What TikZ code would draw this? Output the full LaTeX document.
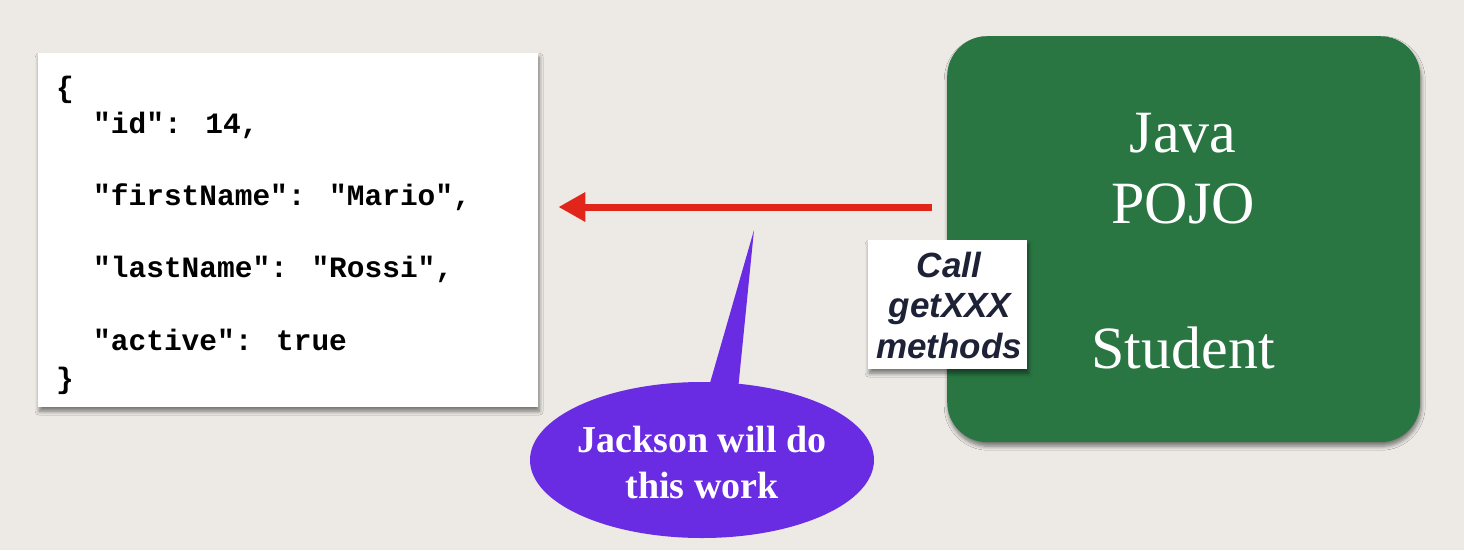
\documentclass[tikz,border=0pt]{standalone}
\usepackage{fontspec}
\usetikzlibrary{arrows.meta,shadows.blur}
\newfontfamily\jmono{Liberation Mono}
\newfontfamily\jsans{Liberation Sans}
\newfontfamily\jserif{Liberation Serif}
\definecolor{bgc}{HTML}{EDEAE5}
\definecolor{pojogreen}{HTML}{2A7643}
\definecolor{jackpurple}{HTML}{6A2CE3}
\definecolor{arrred}{HTML}{E2251B}
\definecolor{navytext}{HTML}{1E2236}
\tikzset{
  jsonline/.style={anchor=base west, inner sep=0pt, font=\jmono\bfseries\fontsize{29.5}{34}\selectfont, text=black},
  pojotext/.style={anchor=base, inner sep=0pt, text=white, font=\jserif\fontsize{60}{66}\selectfont},
  calltext/.style={anchor=base, inner sep=0pt, text=navytext, font=\jsans\bfseries\itshape\fontsize{35}{40}\selectfont},
  jacktext/.style={anchor=base, inner sep=0pt, text=white, font=\jserif\bfseries\fontsize{38}{44}\selectfont},
  softshadow/.style={blur shadow={shadow xshift=1pt, shadow yshift=-4pt, shadow blur radius=4pt, shadow blur steps=6, shadow opacity=50}},
}
\begin{document}
\begin{tikzpicture}[x=1pt,y=-1pt]
\fill[bgc] (0,0) rectangle (1464,550);
\useasboundingbox (0,0) rectangle (1464,550);
% JSON box
\node[draw=none, fill=white, softshadow, minimum width=500pt, minimum height=354pt, inner sep=0pt, anchor=north west] (json) at (38,53) {};
\node[jsonline] (j0) at (56,97) {\{};
\node[jsonline] (j1) at (93,133) {"id": 14,};
\node[jsonline] (j2) at (93,205) {"firstName": "Mario",};
\node[jsonline] (j3) at (93,277) {"lastName": "Rossi",};
\node[jsonline] (j4) at (93,350) {"active": true};
\node[jsonline] (j5) at (56,388) {\}};
% POJO box
\node[fill=pojogreen, rounded corners=40pt, softshadow, minimum width=473pt, minimum height=406pt, inner sep=0pt, anchor=north west] (pojo) at (947,36) {};
\node[pojotext] (java) at (1183,152) {Java};
\node[pojotext] (pojoname) at (1183,223) {POJO};
\node[pojotext] (student) at (1183,368) {Student};
% Call box
\node[fill=white, softshadow, minimum width=159pt, minimum height=129pt, inner sep=0pt, anchor=north west] (call) at (868,240) {};
\node[calltext] (c1) at (949,277) {Call};
\node[calltext] (c2) at (950,317) {getXXX};
\node[calltext] (c3) at (949,358) {methods};
% Arrow
\draw[arrred, line width=7pt, -{Triangle[length=27pt,width=28pt]}] ([xshift=-15pt]pojo.west |- 0,207) -- ([xshift=20pt]json.east |- 0,207);
% Callout
\fill[jackpurple] (702,460) ellipse [x radius=172, y radius=78];
\fill[jackpurple] (708,390) -- (754,230) -- (738,390) -- cycle;
\node[jacktext] (jk1) at (702,452) {Jackson will do};
\node[jacktext] (jk2) at (702,498) {this work};
\end{tikzpicture}
\end{document}
